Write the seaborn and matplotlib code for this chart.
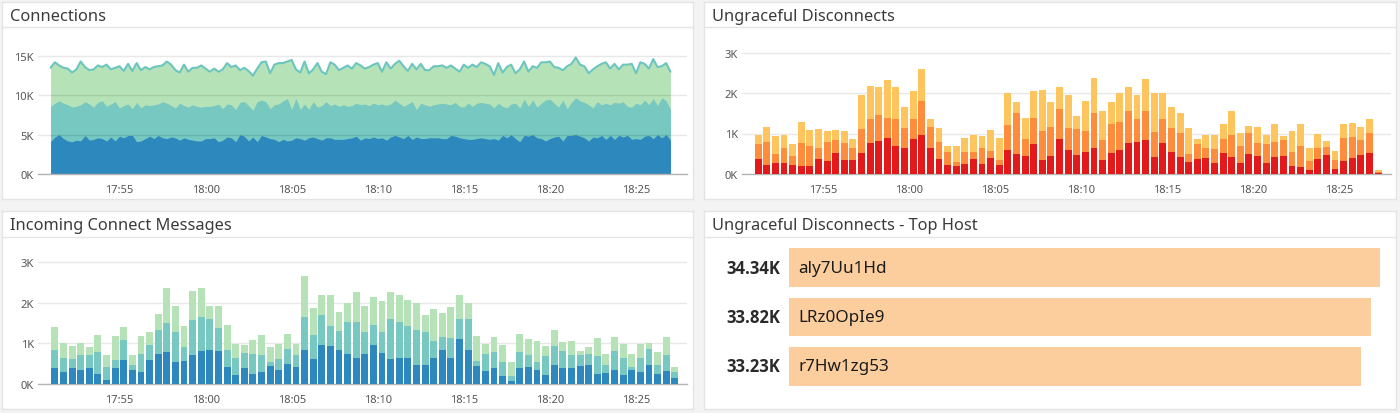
import matplotlib
matplotlib.use("Agg")
import matplotlib.pyplot as plt
import numpy as np
import seaborn as sns

sns.set_theme(style="white")
plt.rcParams["font.family"] = ["Noto Sans", "DejaVu Sans"]

W, H = 1400, 414

tick_minutes = [55, 60, 65, 70, 75, 80, 85]
tick_labels = ["17:55", "18:00", "18:05", "18:10", "18:15", "18:20", "18:25"]

# Connections, stack tops in K, one value every 15 s from 17:51
conn_top = [13.5, 14.2, 13.8, 13.5, 13.4, 12.9, 13.3, 14.3, 13.6, 13.2, 13.3, 13.8, 13.6, 13.9, 13.3,
            13.5, 13.7, 13.1, 14.0, 13.1, 14.1, 13.2, 13.6, 13.3, 13.6, 13.7, 13.8, 14.3, 13.9, 13.2,
            12.9, 13.9, 13.0, 13.5, 13.5, 13.8, 13.4, 13.0, 13.4, 13.0, 13.3, 14.1, 13.6, 13.8, 13.2,
            13.5, 13.1, 12.5, 13.4, 14.2, 14.3, 12.8, 13.9, 14.1, 14.1, 14.3, 14.5, 13.3, 12.9, 14.3,
            12.8, 13.3, 14.1, 13.0, 12.7, 14.2, 13.9, 13.2, 13.5, 13.8,
            13.4, 14.1, 13.8, 13.4, 13.6, 13.9, 14.1, 13.0, 14.2, 13.4, 14.0, 14.4, 13.7, 13.1, 14.0,
            13.3, 14.0, 13.2, 13.2, 13.7, 13.7, 13.8, 13.5, 13.8, 13.4, 13.0, 13.9, 13.5, 13.9, 13.6,
            14.2, 14.0, 13.7, 12.6, 14.1, 12.9, 13.6, 13.9, 12.8, 13.3, 14.3, 13.0, 13.7, 13.5, 14.2,
            14.2, 14.3, 13.6, 13.5, 13.2, 13.7, 14.0, 14.8, 13.9, 13.7, 12.8, 13.3, 13.7, 14.0, 14.2,
            13.4, 14.0, 13.3, 13.9, 13.9, 14.0, 12.8, 14.2, 14.0, 13.4, 14.6, 13.6, 13.7, 14.1, 13.0]
conn_mid = [8.6, 9.0, 9.3, 9.0, 8.8, 8.5, 8.6, 8.8, 9.2, 8.9, 8.5, 9.1, 9.3, 8.6, 8.9,
            9.2, 8.4, 8.7, 8.9, 8.3, 9.1, 8.4, 8.8, 8.7, 8.8, 8.9, 9.2, 9.0, 8.7, 8.4,
            9.0, 8.7, 8.5, 8.8, 8.6, 8.5, 8.6, 8.6, 8.7, 8.9, 8.3, 8.9, 8.8, 8.2, 9.1,
            9.2, 8.7, 8.1, 9.2, 9.4, 9.2, 8.3, 8.8, 8.9, 9.3, 9.6, 8.2, 9.6, 8.2, 8.9,
            8.2, 9.2, 8.5, 8.7, 9.2, 8.7, 8.9, 8.6, 8.8, 8.6,
            8.7, 9.0, 8.8, 8.9, 8.7, 9.0, 8.8, 8.9, 8.7, 8.9, 9.4, 9.0, 8.6, 8.9, 9.2,
            8.2, 9.0, 8.8, 8.6, 8.8, 8.9, 9.0, 8.9, 8.8, 9.1, 8.6, 8.5, 9.0, 8.6, 9.0,
            9.1, 9.0, 8.9, 8.4, 9.0, 8.6, 8.4, 8.9, 9.0, 8.4, 9.5, 8.6, 9.4, 8.5, 9.0,
            9.4, 9.5, 9.0, 8.5, 9.4, 8.3, 9.1, 9.7, 9.3, 9.1, 8.8, 8.4, 9.2, 8.8, 9.0,
            8.8, 9.1, 9.0, 9.2, 8.6, 8.5, 9.0, 8.8, 9.4, 8.8, 9.6, 8.7, 9.7, 9.3, 8.2]
conn_low = [4.1, 4.7, 5.0, 4.5, 4.2, 4.1, 4.3, 4.2, 4.9, 4.3, 4.4, 4.6, 4.5, 4.2, 4.7,
            4.2, 4.8, 4.6, 4.9, 4.9, 4.1, 4.2, 4.5, 4.8, 4.5, 4.9, 4.6, 4.5, 4.7, 4.6,
            4.3, 4.6, 4.4, 4.3, 4.2, 4.2, 4.5, 4.5, 4.6, 4.1, 4.3, 4.7, 4.6, 4.1, 5.0,
            4.8, 4.2, 4.7, 4.1, 4.9, 4.7, 4.5, 4.4, 4.1, 4.4, 4.2, 4.3, 4.6, 4.5, 4.3,
            4.6, 4.7, 4.5, 4.3, 4.6, 4.6, 4.4, 4.4, 4.4, 4.5,
            4.6, 4.8, 4.3, 4.6, 4.5, 4.7, 4.5, 4.6, 4.3, 4.7, 4.9, 4.7, 4.5, 4.9, 4.4,
            4.7, 4.5, 4.5, 4.6, 4.6, 4.6, 4.5, 4.5, 4.9, 4.8, 4.6, 4.5, 4.4, 4.4, 4.5,
            4.6, 4.5, 4.4, 4.5, 4.3, 4.9, 4.6, 5.0, 4.5, 4.1, 4.9, 4.8, 5.0, 4.6, 4.5,
            4.2, 4.5, 4.7, 4.8, 4.2, 4.9, 4.9, 5.0, 4.8, 4.6, 4.2, 4.7, 4.6, 4.9, 4.4,
            4.9, 4.4, 4.9, 4.7, 4.9, 4.4, 4.5, 4.4, 4.8, 4.9, 4.5, 5.0, 4.6, 5.0, 4.3]

# Ungraceful Disconnects, stack tops, one bar every 30 s
ung_low = [370, 220, 280, 280, 230, 200, 200, 380, 330, 530, 350, 350, 530, 760, 810, 890, 680, 650, 860, 960,
           630, 380, 220, 200, 250, 380, 250, 400, 230, 600, 500, 450, 730, 350, 450, 860, 600, 480, 550, 650,
           350, 530, 600, 760, 780, 830, 430, 760, 550, 430, 300, 380, 400, 280, 530, 430, 280, 500, 450, 280,
           430, 450, 200, 170, 100, 380, 480, 120, 330, 400, 480, 530, 25]
ung_mid = [730, 780, 490, 650, 450, 760, 700, 650, 800, 840, 770, 640, 1110, 1360, 1450, 1390, 1360, 1140, 1360, 1800,
           1160, 790, 550, 300, 550, 550, 650, 580, 340, 1210, 1500, 860, 1390, 1060, 1160, 1600, 1140, 1110, 1060, 1510,
           830, 1240, 1290, 1560, 1350, 1560, 1040, 1350, 1140, 1010, 500, 740, 640, 610, 860, 970, 680, 1010, 760, 740,
           800, 840, 550, 680, 330, 650, 660, 350, 890, 910, 840, 1010, 40]
ung_top = [960, 1160, 940, 960, 730, 1290, 1090, 1100, 1050, 1090, 1060, 860, 1950, 2180, 2140, 2310, 2140, 1660, 2050, 2590,
           1360, 1140, 680, 680, 880, 960, 940, 1090, 880, 1990, 1780, 1390, 2050, 2080, 1780, 2140, 1950, 1440, 1800, 2360,
           1560, 1780, 1990, 2140, 1950, 2350, 1990, 1990, 1650, 1500, 1140, 860, 960, 960, 1240, 1560, 1010, 1190, 1160, 960,
           1240, 940, 1060, 1240, 630, 990, 810, 580, 1240, 1260, 1160, 1350, 100]

# Incoming Connect Messages, stack tops, one bar every 30 s
inc_low = [400, 300, 400, 340, 390, 250, 100, 390, 580, 350, 300, 580, 740, 790, 530, 560, 710, 810, 840, 810,
           430, 220, 390, 250, 300, 450, 350, 500, 430, 840, 620, 960, 940, 840, 740, 650, 740, 960, 760, 610,
           650, 650, 480, 480, 650, 840, 650, 1110, 850, 440, 330, 400, 200, 70, 390, 430, 350, 220, 480, 390,
           390, 450, 480, 250, 280, 350, 220, 350, 300, 480, 250, 330, 150]
inc_mid = [830, 650, 610, 710, 710, 790, 430, 590, 1090, 480, 740, 960, 1340, 1500, 1290, 910, 1570, 1650, 1600, 1370,
           850, 650, 760, 730, 710, 550, 610, 860, 710, 1650, 1200, 1700, 1440, 1310, 1540, 1520, 1270, 1450, 1290, 1600,
           1540, 1440, 1340, 1290, 1060, 1150, 1140, 1600, 1600, 570, 750, 790, 530, 190, 790, 710, 550, 680, 940, 810,
           710, 710, 740, 680, 480, 810, 630, 410, 630, 860, 480, 710, 290]
inc_top = [1410, 1010, 930, 1010, 900, 1210, 710, 1180, 1410, 710, 1190, 1290, 1730, 2360, 1930, 1440, 2300, 2360, 1930, 1930,
           1460, 990, 960, 1080, 1210, 910, 990, 1240, 990, 2660, 1870, 2200, 2200, 1780, 2000, 2260, 1930, 2150, 2050, 2280,
           2190, 2080, 1990, 1700, 1850, 1750, 1900, 2190, 1990, 1180, 990, 1160, 950, 550, 1240, 1100, 1060, 940, 1340, 1030,
           1060, 810, 910, 1140, 730, 1160, 990, 730, 990, 1010, 790, 1160, 420]

hosts = ["aly7Uu1Hd", "LRz0OpIe9", "r7Hw1zg53"]
host_values = [34.34, 33.82, 33.23]
host_labels = ["34.34K", "33.82K", "33.23K"]

BLUES = ["#b6e2b7", "#76c8c1", "#2d89bd"]
REDS = ["#fec55f", "#fd8d3c", "#e21a1c"]
PEACH = "#fdce9d"
TITLE_COLOR = "#3a3a3a"
TICK_COLOR = "#555555"
EDGE = "#e4e4e4"


def px_axes(fig, left, top, right, bottom):
    """Axes placed by pixel edges, y measured from the top of the image."""
    return fig.add_axes([left / W, 1 - bottom / H, (right - left) / W, (bottom - top) / H])


def draw_panel(fig, left, top, right, bottom, title):
    ax = px_axes(fig, left, top, right, bottom)
    ax.set_xlim(0, right - left)
    ax.set_ylim(bottom - top, 0)
    ax.set_xticks([])
    ax.set_yticks([])
    ax.set_facecolor("white")
    for spine in ax.spines.values():
        spine.set_color(EDGE)
        spine.set_linewidth(1)
    ax.axhline(25.5, color=EDGE, lw=1)
    ax.text(8, 14.5, title, color=TITLE_COLOR, fontsize=11.8, va="center", ha="left")


def style_time_axis(ax, ylim, yticks, ylabels, xlim=(50.27, 87.96)):
    ax.set_xlim(*xlim)
    ax.set_ylim(*ylim)
    ax.set_xticks(tick_minutes, tick_labels)
    ax.set_yticks(yticks, ylabels)
    ax.set_xlabel("")
    ax.set_ylabel("")
    ax.patch.set_alpha(0)
    sns.despine(ax=ax, left=True)
    ax.spines["bottom"].set_color("#b5b5b5")
    ax.spines["bottom"].set_linewidth(1)
    ax.tick_params(axis="x", length=4, width=1, color="#b5b5b5", labelsize=8, labelcolor=TICK_COLOR, pad=3)
    ax.tick_params(axis="y", length=0, labelsize=8, labelcolor=TICK_COLOR, pad=3)
    ax.grid(axis="y", color="#000000", alpha=0.09, lw=1)
    ax.grid(axis="x", visible=False)


def stacked_bars(ax, tops, colors):
    minutes = 51.25 + 0.5 * np.arange(len(tops[0]))
    for values, color in zip(tops, colors):
        sns.barplot(x=minutes, y=values, native_scale=True, ax=ax, color=color,
                    saturation=1, width=0.8, linewidth=0, zorder=3)


fig = plt.figure(figsize=(W / 100, H / 100), dpi=100, facecolor="#f3f3f3")

draw_panel(fig, 2, 3, 693, 200, "Connections")
draw_panel(fig, 704, 3, 1396, 200, "Ungraceful Disconnects")
draw_panel(fig, 2, 212, 693, 410, "Incoming Connect Messages")
draw_panel(fig, 704, 212, 1396, 410, "Ungraceful Disconnects - Top Host")

# Connections
ax = px_axes(fig, 38, 48, 687, 175)
minutes = 51 + 0.25 * np.arange(len(conn_top))
ax.fill_between(minutes, 0, conn_top, color=BLUES[0], lw=0, zorder=1)
ax.fill_between(minutes, 0, conn_mid, color=BLUES[1], lw=0, zorder=1)
ax.fill_between(minutes, 0, conn_low, color=BLUES[2], lw=0, zorder=1)
sns.lineplot(x=minutes, y=conn_top, ax=ax, color="#6cc5be", linewidth=1.5, zorder=2)
style_time_axis(ax, (0, 127 / 118 * 15), [0, 5, 10, 15], ["0K", "5K", "10K", "15K"])
ax.set_axisbelow(False)

# Ungraceful Disconnects
ax = px_axes(fig, 742, 48, 1391, 175)
stacked_bars(ax, [ung_top, ung_mid, ung_low], REDS)
style_time_axis(ax, (0, 127 / 121.5 * 3000), [0, 1000, 2000, 3000], ["0K", "1K", "2K", "3K"], xlim=(50.31, 88.0))
ax.set_axisbelow(True)

# Incoming Connect Messages
ax = px_axes(fig, 38, 258, 687, 385)
stacked_bars(ax, [inc_top, inc_mid, inc_low], BLUES)
style_time_axis(ax, (0, 127 / 121.7 * 3000), [0, 1000, 2000, 3000], ["0K", "1K", "2K", "3K"])
ax.set_axisbelow(True)

# Top hosts
ax = px_axes(fig, 789, 244, 1391, 392)
sns.barplot(x=host_values, y=hosts, ax=ax, color=PEACH, saturation=1, width=0.78, linewidth=0)
ax.set_xlim(0, 35)
ax.set_ylim(2.5, -0.5)
ax.axis("off")
for i, (name, label) in enumerate(zip(hosts, host_labels)):
    ax.text(0.55, i, name, color="#1c1c1c", fontsize=12.3, va="center", ha="left")
    ax.text(-0.5, i, label, color="#2a2a2a", fontsize=12, family="Open Sans", fontweight="bold",
            va="center", ha="right")

fig.savefig("out.png", dpi=100, facecolor=fig.get_facecolor())
